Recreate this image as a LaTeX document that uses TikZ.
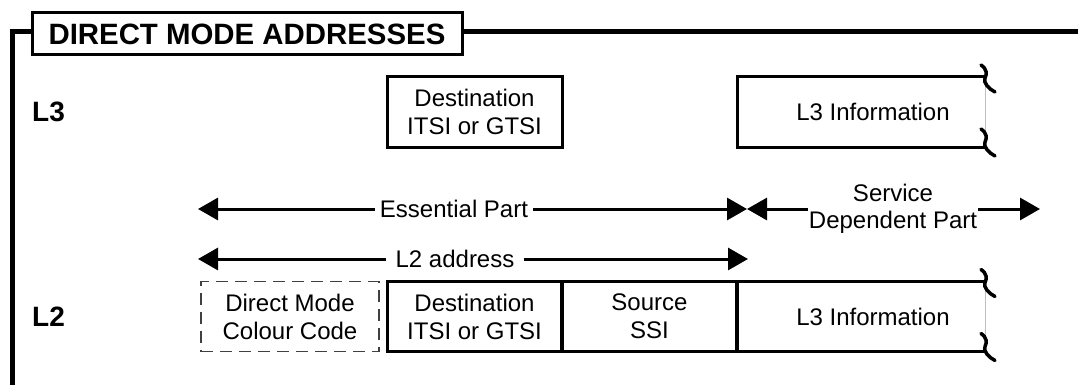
\documentclass[tikz,border=0pt]{standalone}
\usepackage{fontspec}
\setmainfont{Liberation Sans}
\usetikzlibrary{positioning}
\usetikzlibrary{arrows.meta}

\newcommand\wavy[1]{\draw[squig,shift={(#1)}] (-4,-13) .. controls (2,-9) and (2,-4) .. (0,0) .. controls (-2,5) and (4,11) .. (10,14);}

\begin{document}
\begin{tikzpicture}[x=1pt,y=-1pt,
  box/.style={draw,line width=3pt,minimum width=175pt,minimum height=70pt,inner sep=0pt,outer sep=0pt,align=center,font=\fontsize{24}{28}\selectfont},
  open/.style={box,draw=none,minimum width=248pt},
  ccbox/.style={box,line width=1.2pt,draw=black!75,dash pattern=on 12pt off 7pt,minimum width=178pt},
  lvl/.style={anchor=west,inner sep=0pt,font=\fontsize{28}{30}\selectfont\bfseries},
  txt/.style={inner sep=5pt,align=center,font=\fontsize{24}{27}\selectfont},
  span/.style={line width=3pt,-{Triangle[length=20pt,width=22pt]}},
  squig/.style={line width=3.5pt,line cap=round}]
\useasboundingbox (0,0) rectangle (1078,385);

% frame and heading
\draw[line width=5pt] (12,392) -- (12,32) -- (1085,32);
\node[draw,fill=white,line width=3pt,minimum width=430pt,minimum height=42pt,inner sep=0pt,font=\fontsize{29.4}{30}\selectfont\bfseries] (head) at (247,34) {DIRECT MODE ADDRESSES};

% L3 row
\node[lvl] (l3) at (32,112) {L3};
\node[box] (dst3) at (474.5,112) {Destination\\ITSI or GTSI};
\node[open] (inf3) at (861,112) {};
\draw[line width=3pt] (inf3.north east) -- (inf3.north west) -- (inf3.south west) -- (inf3.south east);
\draw[black!25,line width=0.8pt] (inf3.north east) -- (inf3.south east);
\node[txt] (inf3t) at ([xshift=12pt]inf3.center) {L3 Information};
\wavy{[yshift=-1pt]inf3.north east}
\wavy{[yshift=5pt]inf3.south east}

% spans
\coordinate (e1) at (198,209);
\coordinate (e2) at (747,209);
\coordinate (s2) at (1040,209);
\node[txt] (ess) at (454,209) {Essential Part};
\draw[span] (ess.west) -- (e1);
\draw[span] (ess.east) -- (e2);
\node[txt,inner sep=1pt] (svc) at (893,209) {Service\\Dependent Part};
\draw[span] (svc.west) -- (e2);
\draw[span] (svc.east) -- (s2);

\coordinate (a1) at (198,259);
\coordinate (a2) at (748,259);
\node[txt,inner sep=9pt] (adr) at (455,259) {L2 address};
\draw[span] (adr.west) -- (a1);
\draw[span] (adr.east) -- (a2);

% L2 row
\node[lvl] (l2) at (32,317) {L2};
\node[box] (dst2) at (474.5,316.5) {Destination\\ITSI or GTSI};
\node[ccbox,left=8pt of dst2] (dcc) {Direct Mode\\Colour Code};
\node[box,right=0pt of dst2] (src2) {Source\\SSI};
\node[open,right=0pt of src2] (inf2) {};
\draw[line width=3pt] (inf2.north east) -- (inf2.north west) -- (inf2.south west) -- (inf2.south east);
\draw[black!25,line width=0.8pt] (inf2.north east) -- (inf2.south east);
\node[txt] (inf2t) at ([xshift=12pt]inf2.center) {L3 Information};
\draw[line width=4.5pt] (dst2.north east) -- (dst2.south east);
\draw[line width=4.5pt] (src2.north east) -- (src2.south east);
\wavy{[yshift=-1pt]inf2.north east}
\wavy{[yshift=5pt]inf2.south east}
\end{tikzpicture}
\end{document}
